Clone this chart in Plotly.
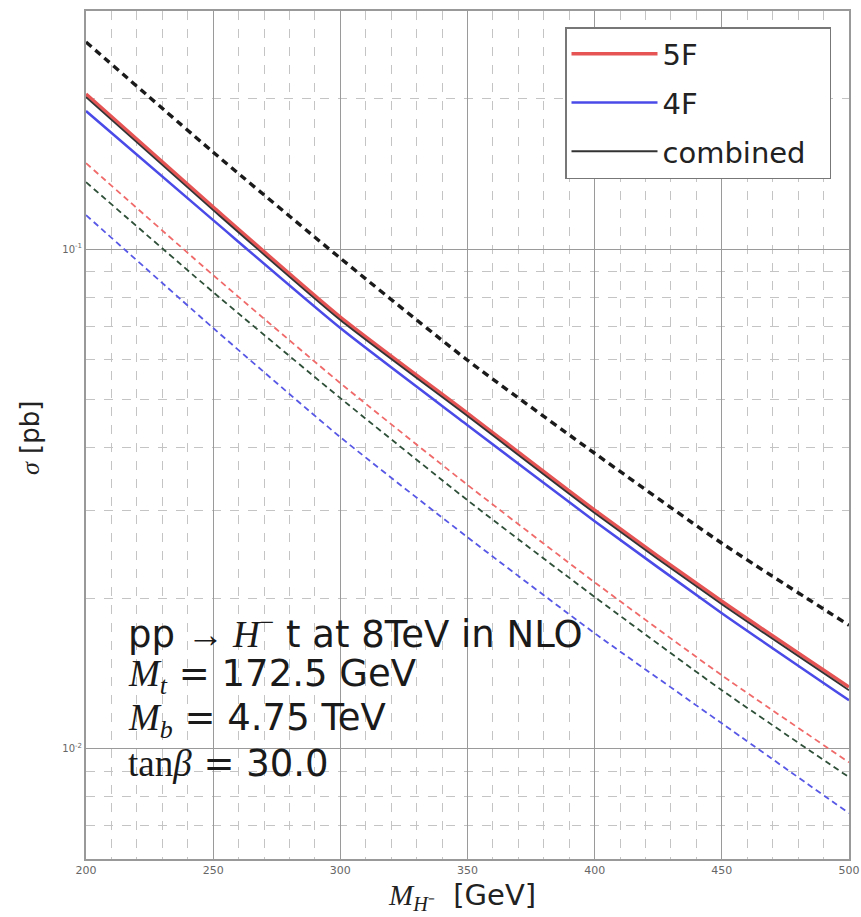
import plotly.graph_objects as go
import numpy as np

# ---- data ----
mass = [200, 250, 300, 350, 400, 450, 500]                          # M_H- [GeV]
sigma_5F      = [0.2045, 0.1214, 0.0731, 0.0469, 0.0300, 0.0197, 0.01326]
sigma_4F      = [0.1891, 0.1143, 0.0695, 0.0444, 0.0285, 0.01865, 0.01248]
sigma_comb    = [0.2017, 0.1197, 0.0721, 0.0463, 0.0296, 0.01943, 0.01307]
sigma_upper   = [0.2600, 0.1564, 0.0959, 0.0599, 0.0390, 0.02575, 0.01764]
sigma_5F_low  = [0.1487, 0.0887, 0.0539, 0.0337, 0.0215, 0.0140, 0.00937]
sigma_comb_low= [0.1362, 0.0820, 0.0503, 0.0314, 0.0201, 0.01307, 0.00875]
sigma_4F_low  = [0.1170, 0.0695, 0.0420, 0.02647, 0.0170, 0.01122, 0.00741]

x_ticks = [200, 250, 300, 350, 400, 450, 500]
y_ticks = [0.01, 0.1]
y_ticktext = ["10<sup>-2</sup>", "10<sup>-1</sup>"]
y_minor = [0.006, 0.007, 0.008, 0.009, 0.02, 0.03, 0.04, 0.05, 0.06, 0.07, 0.08, 0.09, 0.2, 0.3]

info_lines = [
    "pp <span style='font-family:Liberation Serif'>→ <i>H</i><sup>−</sup></span> t at 8TeV in NLO",
    "<span style='font-family:Liberation Serif'><i>M</i><sub><i>t</i></sub></span> = 172.5 GeV",
    "<span style='font-family:Liberation Serif'><i>M</i><sub><i>b</i></sub></span> = 4.75 TeV",
    "<span style='font-family:Liberation Serif'>tan<i>β</i></span> = 30.0",
]

SERIF = "Liberation Serif"
W, H = 861, 917
L, R, T, B = 86, 12, 11, 58
PAD = "\u00a0\u00a0"

fig = go.Figure()

def add(y, color, width, dash, name=None, show=False, group=None):
    fig.add_trace(go.Scatter(
        x=mass, y=y, mode="lines", name=name, showlegend=show,
        legendgroup=group,
        line=dict(color=color, width=width, dash=dash, shape="spline", smoothing=0.6),
    ))

# dashed curves
add(sigma_upper, "#1a1a1a", 3.4, "7px,5px")
add(sigma_5F_low, "#f06a6a", 1.8, "6px,4px")
add(sigma_comb_low, "#2e4f38", 1.8, "6px,4px")
add(sigma_4F_low, "#5858e6", 1.8, "6px,4px")
# solid curves
add(sigma_5F, "#e65454", 3.5, "solid", "5F", True, "a")
add(sigma_4F, "#4a4ae8", 2.5, "solid", "4F", True, "b")
add(sigma_comb, "#333333", 1.8, "solid", "combined" + PAD, True, "c")

ph = H - T - B
pw = W - L - R

fig.update_layout(
    width=W, height=H,
    margin=dict(l=L, r=R, t=T, b=B),
    paper_bgcolor="white", plot_bgcolor="white",
    font=dict(family="DejaVu Sans", color="#222"),
    showlegend=True,
    legend=dict(
        x=(565 - L) / pw, y=1 - (27 - T) / ph, xanchor="left", yanchor="top",
        bgcolor="white", bordercolor="#777", borderwidth=1.5,
        font=dict(size=29, family="DejaVu Sans", color="#222"),
        tracegroupgap=8, traceorder="grouped",
        itemwidth=86,
    ),
    xaxis=dict(
        range=[200, 500], tickvals=x_ticks, automargin=False,
        showgrid=True, gridcolor="#9a9a9a", gridwidth=1.2,
        showline=True, linecolor="#999", linewidth=2, mirror=True,
        ticks="", tickfont=dict(size=11, color="#666"),
        minor=dict(dtick=10, tick0=200, showgrid=True, gridcolor="#c4c4c4",
                   griddash="dash", gridwidth=1),
        zeroline=False,
    ),
    yaxis=dict(
        type="log", range=[np.log10(0.006), np.log10(0.3)], automargin=False,
        tickvals=y_ticks, ticktext=y_ticktext,
        showgrid=True, gridcolor="#9a9a9a", gridwidth=1.2,
        showline=True, linecolor="#999", linewidth=2, mirror=True,
        ticks="", tickfont=dict(size=10, color="#666"),
        minor=dict(tickmode="array", tickvals=y_minor, showgrid=True,
                   gridcolor="#c4c4c4", griddash="dash", gridwidth=1),
        zeroline=False,
    ),
)

# axis titles
fig.add_annotation(
    text=f"<span style='font-family:{SERIF}'><i>M</i><sub><i>H</i>⁻</sub></span>  [GeV]",
    xref="paper", yref="paper", x=(462 - L) / pw, y=-(896 - (H - B)) / ph,
    xanchor="center", yanchor="middle", showarrow=False,
    font=dict(size=29, color="#222"),
)
fig.add_annotation(
    text=f"<span style='font-family:{SERIF}'><i>σ</i></span> [pb]",
    xref="paper", yref="paper", x=-(L - 30) / pw, y=1 - (438 - T) / ph,
    xanchor="center", yanchor="middle", showarrow=False, textangle=-90,
    font=dict(size=26, color="#222"),
)

# info text lines
line_y = [632, 676, 720, 763]
for txt, yy in zip(info_lines, line_y):
    fig.add_annotation(
        text=txt, xref="paper", yref="paper",
        x=(126 - L) / pw, y=1 - (yy - T) / ph, xanchor="left", yanchor="middle",
        align="left", showarrow=False,
        font=dict(size=37, family="DejaVu Sans", color="#1a1a1a"),
    )

fig.write_html("out.html", config={"displayModeBar": False},
               post_script="document.body.style.margin='0';")
